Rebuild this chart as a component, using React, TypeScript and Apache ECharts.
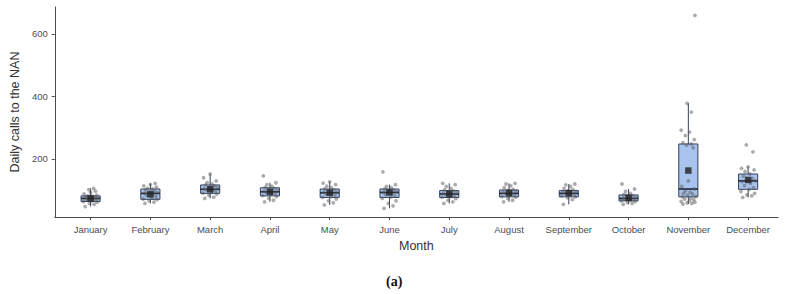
import React, { useEffect, useRef } from "react";
import * as echarts from "echarts";

const months = ["January", "February", "March", "April", "May", "June", "July", "August", "September", "October", "November", "December"];

// Box statistics
const whiskerLow = [48, 58, 74, 63, 53, 42, 58, 63, 55, 55, 56, 77];
const q1 = [64, 71, 90, 82, 77, 77, 77, 79, 79, 66, 79, 103];
const median = [74, 90, 103, 95, 92, 93, 88, 90, 90, 74, 104, 130];
const q3 = [82, 104, 117, 108, 104, 104, 99, 101, 99, 85, 248, 152];
const whiskerHigh = [106, 122, 152, 124, 127, 118, 122, 122, 120, 104, 378, 175];
const monthMean = [74, 87, 103, 95, 92, 93, 88, 91, 91, 76, 163, 133];

// Daily values (jittered points)
const janPts = [48, 55, 58, 62, 64, 66, 68, 70, 72, 73, 74, 75, 76, 78, 80, 82, 84, 88, 92, 97, 102, 106];
const febPts = [58, 62, 66, 70, 72, 76, 80, 84, 88, 90, 92, 95, 98, 101, 104, 106, 110, 114, 118, 122];
const marPts = [74, 78, 84, 88, 91, 95, 98, 101, 103, 105, 108, 110, 114, 117, 120, 124, 130, 140, 152];
const aprPts = [63, 68, 74, 80, 83, 87, 90, 93, 95, 97, 100, 103, 106, 109, 113, 118, 124, 146];
const mayPts = [53, 60, 66, 72, 77, 80, 84, 88, 91, 93, 95, 98, 101, 104, 108, 113, 118, 123, 127];
const junPts = [42, 50, 58, 66, 74, 78, 82, 86, 90, 93, 95, 98, 101, 104, 108, 112, 118, 159];
const julPts = [58, 63, 68, 73, 77, 80, 83, 86, 88, 90, 92, 95, 98, 101, 106, 112, 118, 122];
const augPts = [63, 68, 73, 78, 80, 84, 87, 90, 92, 94, 97, 100, 103, 108, 114, 120, 122];
const sepPts = [55, 70, 76, 79, 82, 85, 88, 90, 92, 94, 96, 99, 102, 106, 112, 117, 120];
const octPts = [55, 58, 61, 64, 66, 68, 70, 72, 74, 75, 77, 80, 83, 86, 90, 96, 104, 120];
const novPts = [56, 58, 60, 62, 64, 66, 70, 72, 75, 79, 80, 84, 88, 90, 94, 98, 104, 112, 130, 236, 244, 248, 252, 262, 275, 286, 292, 350, 378, 659];
const decPts = [77, 82, 85, 90, 96, 103, 108, 115, 122, 128, 130, 133, 138, 145, 152, 160, 165, 170, 175, 223, 245];

const monthPoints = [janPts, febPts, marPts, aprPts, mayPts, junPts, julPts, augPts, sepPts, octPts, novPts, decPts];

// Horizontal jitter offsets (category units)
const jitter = [-0.09, 0.06, -0.02, 0.11, -0.12, 0.02, 0.09, -0.06, 0.04, -0.1, 0.12, -0.01, 0.07, -0.08, 0.03, -0.05, 0.1, -0.11, 0.0, 0.08, -0.03, 0.05, -0.09, 0.1, -0.05, 0.02, -0.12, 0.05, -0.02, 0.11];

const yTicks = [200, 400, 600];
const xTicks = [0, 1, 2, 3, 4, 5, 6, 7, 8, 9, 10, 11];

export default function App() {
  const ref = useRef<HTMLDivElement>(null);
  useEffect(() => {
    if (!ref.current) return;
    const chart = echarts.init(ref.current, null, { renderer: "svg" });
    const boxData = months.map((_, i) => [i, whiskerLow[i], q1[i], median[i], q3[i], whiskerHigh[i]]);
    const pointData: number[][] = [];
    monthPoints.forEach((pts, i) => {
      pts.forEach((v, j) => pointData.push([i + jitter[j % jitter.length], v]));
    });
    const meanData = monthMean.map((v, i) => [i, v]);
    const axisColor = "#4a4a4a";
    const labelColor = "#4d4d4d";
    const font = "Liberation Sans";
    chart.setOption({
      animation: false,
      grid: { left: 50, top: 7, width: 728, height: 210, containLabel: false },
      xAxis: {
        type: "value",
        min: -0.6,
        max: 11.5,
        name: "Month",
        nameLocation: "middle",
        nameGap: 22,
        nameTextStyle: { fontFamily: font, fontSize: 12.5, color: "#333" },
        splitLine: { show: false },
        axisLine: { show: true, onZero: false, lineStyle: { color: axisColor, width: 1 } },
        axisTick: { show: true, length: 3, customValues: xTicks, lineStyle: { color: axisColor } },
        axisLabel: {
          customValues: xTicks,
          formatter: (v: number) => months[Math.round(v)] ?? "",
          fontFamily: font,
          fontSize: 9.5,
          color: labelColor,
          margin: 7,
        },
      },
      yAxis: {
        type: "value",
        min: 14.5,
        max: 686,
        name: "Daily calls to the NAN",
        nameLocation: "middle",
        nameGap: 30,
        nameTextStyle: { fontFamily: font, fontSize: 12.5, color: "#333" },
        splitLine: { show: false },
        axisLine: { show: true, onZero: false, lineStyle: { color: axisColor, width: 1 } },
        axisTick: { show: true, length: 3, customValues: yTicks, lineStyle: { color: axisColor } },
        axisLabel: {
          customValues: yTicks,
          fontFamily: font,
          fontSize: 9.5,
          color: labelColor,
          margin: 7,
        },
      },
      series: [
        {
          type: "custom",
          data: boxData,
          encode: { x: 0, y: [1, 2, 3, 4, 5] },
          renderItem: (params: any, api: any) => {
            const x = api.value(0);
            const lo = api.coord([x, api.value(1)]);
            const b1 = api.coord([x, api.value(2)]);
            const md = api.coord([x, api.value(3)]);
            const b3 = api.coord([x, api.value(4)]);
            const hi = api.coord([x, api.value(5)]);
            const half = api.size([1, 0])[0] * 0.16;
            const stroke = "#36405a";
            return {
              type: "group",
              children: [
                { type: "line", shape: { x1: lo[0], y1: lo[1], x2: b1[0], y2: b1[1] }, style: { stroke, lineWidth: 1 } },
                { type: "line", shape: { x1: b3[0], y1: b3[1], x2: hi[0], y2: hi[1] }, style: { stroke, lineWidth: 1 } },
                {
                  type: "rect",
                  shape: { x: b3[0] - half, y: b3[1], width: half * 2, height: b1[1] - b3[1] },
                  style: { fill: "#a7c3ee", stroke, lineWidth: 1 },
                },
                {
                  type: "line",
                  shape: { x1: md[0] - half, y1: md[1], x2: md[0] + half, y2: md[1] },
                  style: { stroke: "#1c2333", lineWidth: 1.6 },
                },
              ],
            };
          },
          z: 1,
        },
        {
          type: "scatter",
          data: pointData,
          symbol: "circle",
          symbolSize: 3.8,
          itemStyle: { color: "#5a5a5a", opacity: 0.5 },
          z: 2,
        },
        {
          type: "scatter",
          data: meanData,
          symbol: "rect",
          symbolSize: 6.5,
          itemStyle: { color: "#222" },
          z: 3,
        },
      ],
      graphic: [
        {
          type: "text",
          left: 386,
          top: 274,
          style: { text: "(a)", font: "bold 14px 'Liberation Serif'", fill: "#111" },
        },
      ],
    });
    return () => chart.dispose();
  }, []);
  return <div ref={ref} style={{ width: 791, height: 294, position: "absolute", left: 0, top: 0 }} />;
}
